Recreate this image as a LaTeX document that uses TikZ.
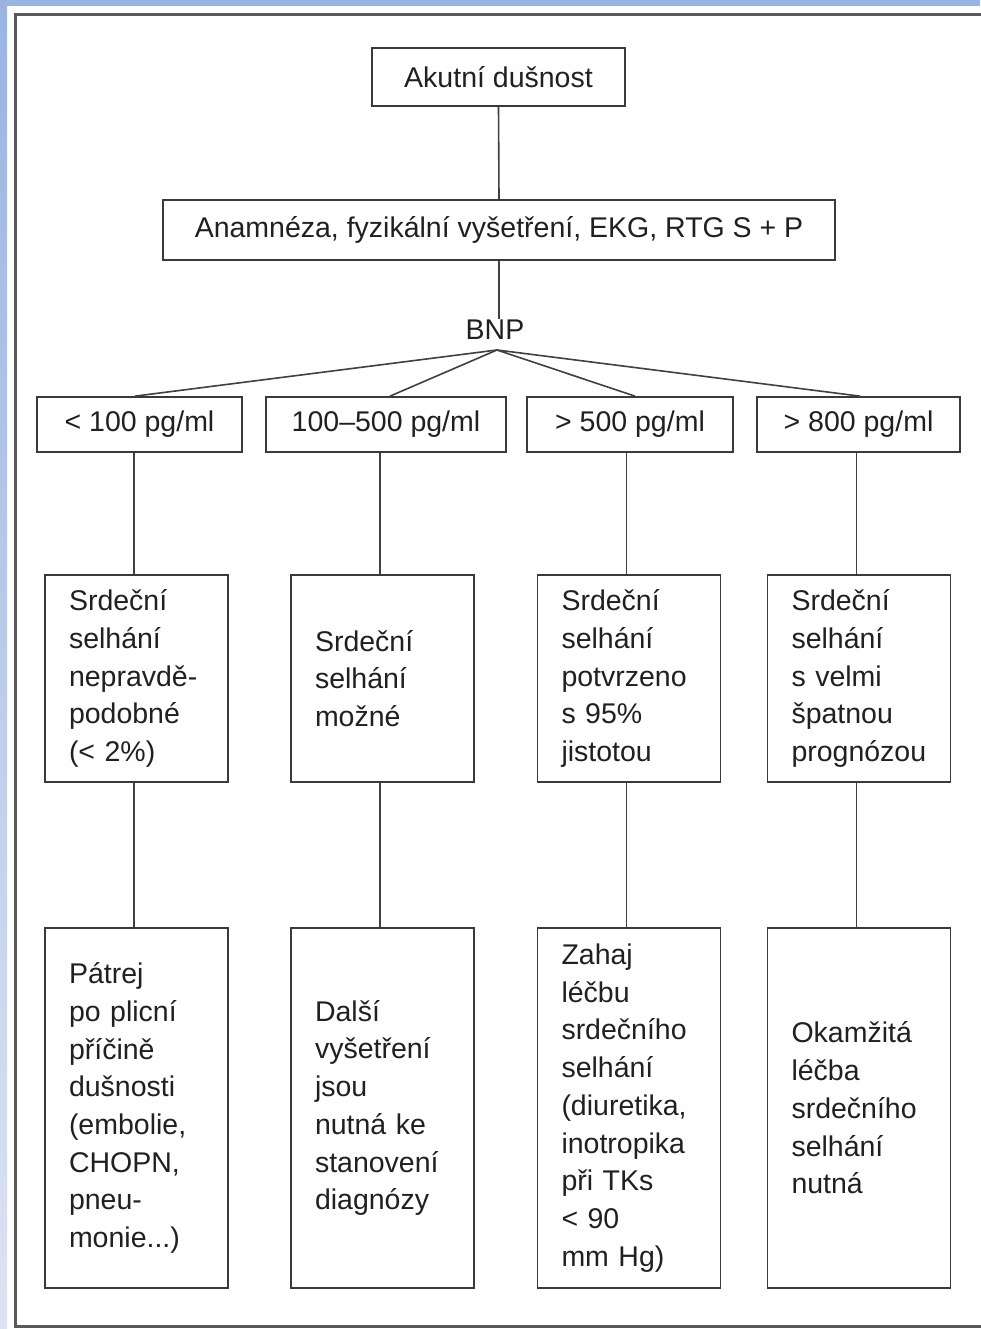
\documentclass[tikz,border=0pt]{standalone}
\usepackage{fontspec}
\setmainfont{Liberation Sans}
\hyphenpenalty=10000
\exhyphenpenalty=10000
\definecolor{bandtop}{HTML}{9AB4E2}
\definecolor{bandbot}{HTML}{DCE4F3}
\definecolor{boxc}{HTML}{3A3A3A}
\definecolor{linec}{HTML}{404040}
\definecolor{txt}{HTML}{231F20}
\newcommand{\fsz}{\fontsize{28.5}{37.7}\selectfont}
\begin{document}
\begin{tikzpicture}[x=1pt,y=-1pt,
  box/.style={draw=boxc, line width=1.7pt, fill=white, text=txt, font=\fsz},
  lvl/.style={box, minimum height=55pt, inner sep=0pt},
  tbox/.style={box, align=left, inner xsep=24pt, inner ysep=0pt, text width=135pt},
  conn/.style={draw=linec, line width=1.6pt}]
\useasboundingbox (0,0) rectangle (980,1329);
\fill[white] (0,0) rectangle (980,1329);
% blue bands
\fill[bandtop] (0,0) rectangle (980,6);
\shade[top color=bandtop, bottom color=bandbot] (0,0) rectangle (7,1329);
% outer frame
\draw[line width=3pt, draw=black!65] (15.5,14.5) rectangle (1000,1326);

% nodes
\node[box, minimum width=253pt, minimum height=58pt, inner sep=0pt] (top) at (498.5,77) {Akutní dušnost};
\node[box, minimum width=672pt, minimum height=60pt, inner sep=0pt] (anam) at (499,230) {Anamnéza, fyzikální vyšetření, EKG, RTG S + P};
\node[text=txt, font=\fsz, inner sep=1pt] (bnp) at (495,330) {BNP};
\coordinate (apex) at (497,350);

\node[lvl, minimum width=205pt] (l1) at (139.5,424.5) {< 100 pg/ml};
\node[lvl, minimum width=240pt] (l2) at (386,424.5) {100–500 pg/ml};
\node[lvl, minimum width=206pt] (l3) at (630,424.5) {> 500 pg/ml};
\node[lvl, minimum width=203pt] (l4) at (858.5,424.5) {> 800 pg/ml};

\node[tbox, minimum height=207pt] (m1) at (136.5,678.5) {Srdeční\\selhání\\nepravdě-\\podobné\\(< 2\%)};
\node[tbox, minimum height=207pt] (m2) at (382.5,678.5) {Srdeční\\selhání\\možné};
\node[tbox, minimum height=207pt] (m3) at (629,678.5) {Srdeční\\selhání\\potvrzeno\\s 95\%\\jistotou};
\node[tbox, minimum height=207pt] (m4) at (859,678.5) {Srdeční\\selhání\\s velmi\\špatnou\\prognózou};

\node[tbox, minimum height=360pt] (b1) at (136.5,1108) {Pátrej\\po plicní\\příčině\\dušnosti\\(embolie,\\CHOPN,\\pneu-\\monie...)};
\node[tbox, minimum height=360pt] (b2) at (382.5,1108) {Další\\vyšetření\\jsou\\nutná ke\\stanovení\\diagnózy};
\node[tbox, minimum height=360pt] (b3) at (629,1108) {Zahaj\\léčbu\\srdečního\\selhání\\(diuretika,\\inotropika\\při TKs\\< 90\\mm Hg)};
\node[tbox, minimum height=360pt] (b4) at (859,1108) {Okamžitá\\léčba\\srdečního\\selhání\\nutná};

% connectors
\draw[conn] (top.south) -- (anam.north);
\draw[conn] (anam.south) -- (anam.south |- bnp.north);
\foreach \n/\dx in {l1/-4.5,l2/4,l3/5,l4/1.5} \draw[conn] (apex) -- ([xshift=\dx pt]\n.north);
\foreach \i in {1,2,3,4} {
  \draw[conn] ([xshift=-2.5pt]m\i.north) -- ([xshift=-2.5pt]m\i.north |- l\i.south);
  \draw[conn] ([xshift=-2.5pt]b\i.north) -- ([xshift=-2.5pt]m\i.south);
}
\end{tikzpicture}
\end{document}
